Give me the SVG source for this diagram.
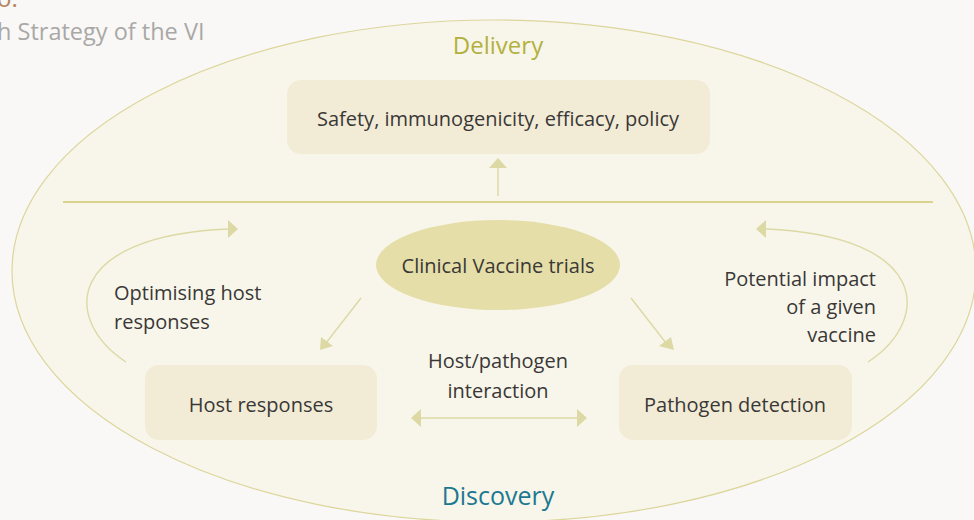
<svg xmlns="http://www.w3.org/2000/svg" width="974" height="520" viewBox="0 0 974 520">
<defs>
<style>
text{font-family:"Open Sans","Noto Sans","Liberation Sans",sans-serif;fill:#3a3836;font-size:20px}
.box{fill:#f2ecd6}
.ln{stroke:#dcd9a4;stroke-width:1.4;fill:none}
.hd{fill:#dcd9a4}
.c{text-anchor:middle}
</style>
</defs>
<rect width="974" height="520" fill="#f9f8f6"/>
<text x="-3" y="7" style="fill:#b5835a;font-size:24px">o.</text>
<text x="-3" y="40" style="fill:#a9a8a6;font-size:23.5px">h Strategy of the VI</text>
<ellipse cx="494" cy="271" rx="482" ry="251" fill="#f8f6ea" stroke="#dcd69c" stroke-width="1.2"/>
<line x1="63" y1="202" x2="933" y2="202" stroke="#d8d48e" stroke-width="2"/>
<text class="c" x="498" y="54" style="fill:#b3b13e;font-size:24px">Delivery</text>
<text class="c" x="498" y="505" style="fill:#1c7891;font-size:25px">Discovery</text>
<g id="connectors">
<line class="ln" x1="498" y1="196" x2="498" y2="168"/>
<polygon class="hd" points="498,158 489,168 507,168"/>
<line class="ln" x1="361" y1="298" x2="326" y2="343"/>
<polygon class="hd" points="320,350 321,337 333,346"/>
<line class="ln" x1="631" y1="298" x2="666" y2="343"/>
<polygon class="hd" points="674,350 659,346 671,337"/>
<line class="ln" x1="420" y1="418" x2="578" y2="418"/>
<polygon class="hd" points="411,418 421,409 421,427"/>
<polygon class="hd" points="587,418 577,409 577,427"/>
<path class="ln" d="M126,362 C62,320 64,236 228,229"/>
<polygon class="hd" points="238,229 228,220 228,238"/>
<path class="ln" d="M868,362 C932,320 930,236 766,229"/>
<polygon class="hd" points="756,229 766,220 766,238"/>
</g>
<g id="delivery-box">
<rect class="box" x="287" y="80" width="423" height="74" rx="14"/>
<text class="c" x="498" y="126">Safety, immunogenicity, efficacy, policy</text>
</g>
<g id="clinical-trials">
<ellipse cx="498" cy="265" rx="122" ry="45" fill="#e5dea8"/>
<text class="c" x="498" y="273">Clinical Vaccine trials</text>
</g>
<g id="host-responses">
<rect class="box" x="145" y="365" width="232" height="75" rx="14"/>
<text class="c" x="261" y="412">Host responses</text>
</g>
<g id="pathogen-detection">
<rect class="box" x="619" y="365" width="233" height="75" rx="14"/>
<text class="c" x="735" y="412">Pathogen detection</text>
</g>
<g id="labels">
<text class="c" x="498" y="368">Host/pathogen</text>
<text class="c" x="498" y="398">interaction</text>
<text x="114" y="300">Optimising host</text>
<text x="114" y="329">responses</text>
<text x="876" y="286" style="text-anchor:end">Potential impact</text>
<text x="876" y="314" style="text-anchor:end">of a given</text>
<text x="876" y="342" style="text-anchor:end">vaccine</text>
</g>
</svg>
